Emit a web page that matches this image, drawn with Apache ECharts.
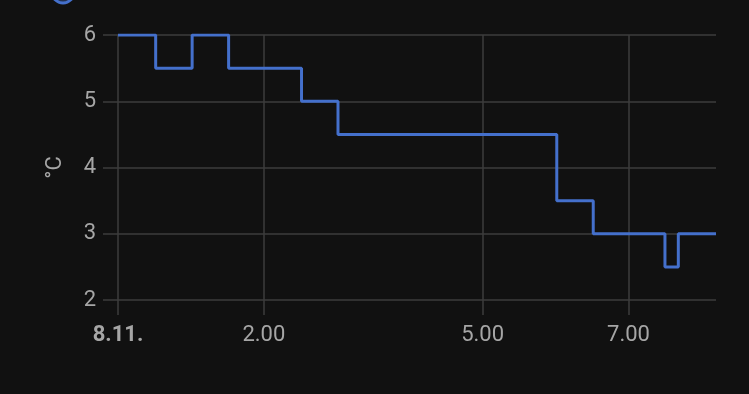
<!DOCTYPE html>
<html>
<head>
<meta charset="utf-8">
<script src="https://cdn.jsdelivr.net/npm/echarts@6/dist/echarts.min.js"></script>
<style>
html,body{margin:0;padding:0;background:#111111;}
#c{width:749px;height:394px;}
</style>
</head>
<body>
<div id="c"></div>
<script>
// State-change times (hh:mm on 8.11.) and temperatures in °C
const changeTimes = ['00:00','00:31','01:01','01:31','02:31','03:01','06:01','06:31','07:30','07:41','08:12'];
const temperatures = [6, 5.5, 6, 5.5, 5, 4.5, 3.5, 3, 2.5, 3, 3];
const tickTimes = ['00:00','02:00','05:00','07:00'];
const yTicks = [2, 3, 4, 5, 6];
const unitName = '°C';
const dayLabel = '8.11.';

function hrs(hm){
  const p = hm.split(':');
  return +p[0] + (+p[1]) / 60;
}
const seriesData = changeTimes.map((t,i)=>[hrs(t), temperatures[i]]);
const tickVals = tickTimes.map(hrs);

const gridColor = '#3d3d3d';
const textColor = '#a6a6a6';
const lineColor = '#4470cc';

const chart = echarts.init(document.getElementById('c'));
chart.setOption({
  backgroundColor: '#111111',
  animation: false,
  textStyle: {fontFamily: 'Roboto'},
  grid: {left: 118, right: 33, top: 35, bottom: 94},
  graphic: [{
    type: 'circle', shape: {cx: 63, cy: -8, r: 11},
    style: {fill: 'rgba(68,112,204,0.35)', stroke: lineColor, lineWidth: 3}
  }],
  xAxis: {
    type: 'value',
    min: hrs(changeTimes[0]),
    max: hrs(changeTimes[changeTimes.length-1]),
    axisLine: {show: false},
    axisTick: {show: true, length: 15, lineStyle: {color: gridColor, width: 1.5}, customValues: tickVals},
    splitLine: {show: true, lineStyle: {color: gridColor, width: 1.5}},
    axisLabel: {
      customValues: tickVals,
      margin: 24,
      color: textColor,
      fontSize: 22,
      fontFamily: 'Roboto',
      formatter: function(v){
        if (v === 0) return '{b|' + dayLabel + '}';
        return Math.round(v) + '.00';
      },
      rich: {b: {fontWeight: 'bold', fontSize: 22, color: textColor, fontFamily: 'Roboto'}}
    }
  },
  yAxis: {
    type: 'value',
    min: yTicks[0], max: yTicks[yTicks.length-1], interval: 1,
    name: unitName,
    nameLocation: 'middle',
    nameGap: 52,
    nameRotate: 90,
    nameTextStyle: {color: textColor, fontSize: 22, fontFamily: 'Roboto'},
    axisLine: {show: false},
    axisTick: {show: true, length: 15, lineStyle: {color: gridColor, width: 1.5}},
    splitLine: {show: true, lineStyle: {color: gridColor, width: 1.5}},
    axisLabel: {margin: 22, color: textColor, fontSize: 22, fontFamily: 'Roboto'}
  },
  series: [{
    type: 'line',
    step: 'end',
    data: seriesData,
    showSymbol: false,
    lineStyle: {color: lineColor, width: 3},
    itemStyle: {color: lineColor}
  }]
});
</script>
</body>
</html>
